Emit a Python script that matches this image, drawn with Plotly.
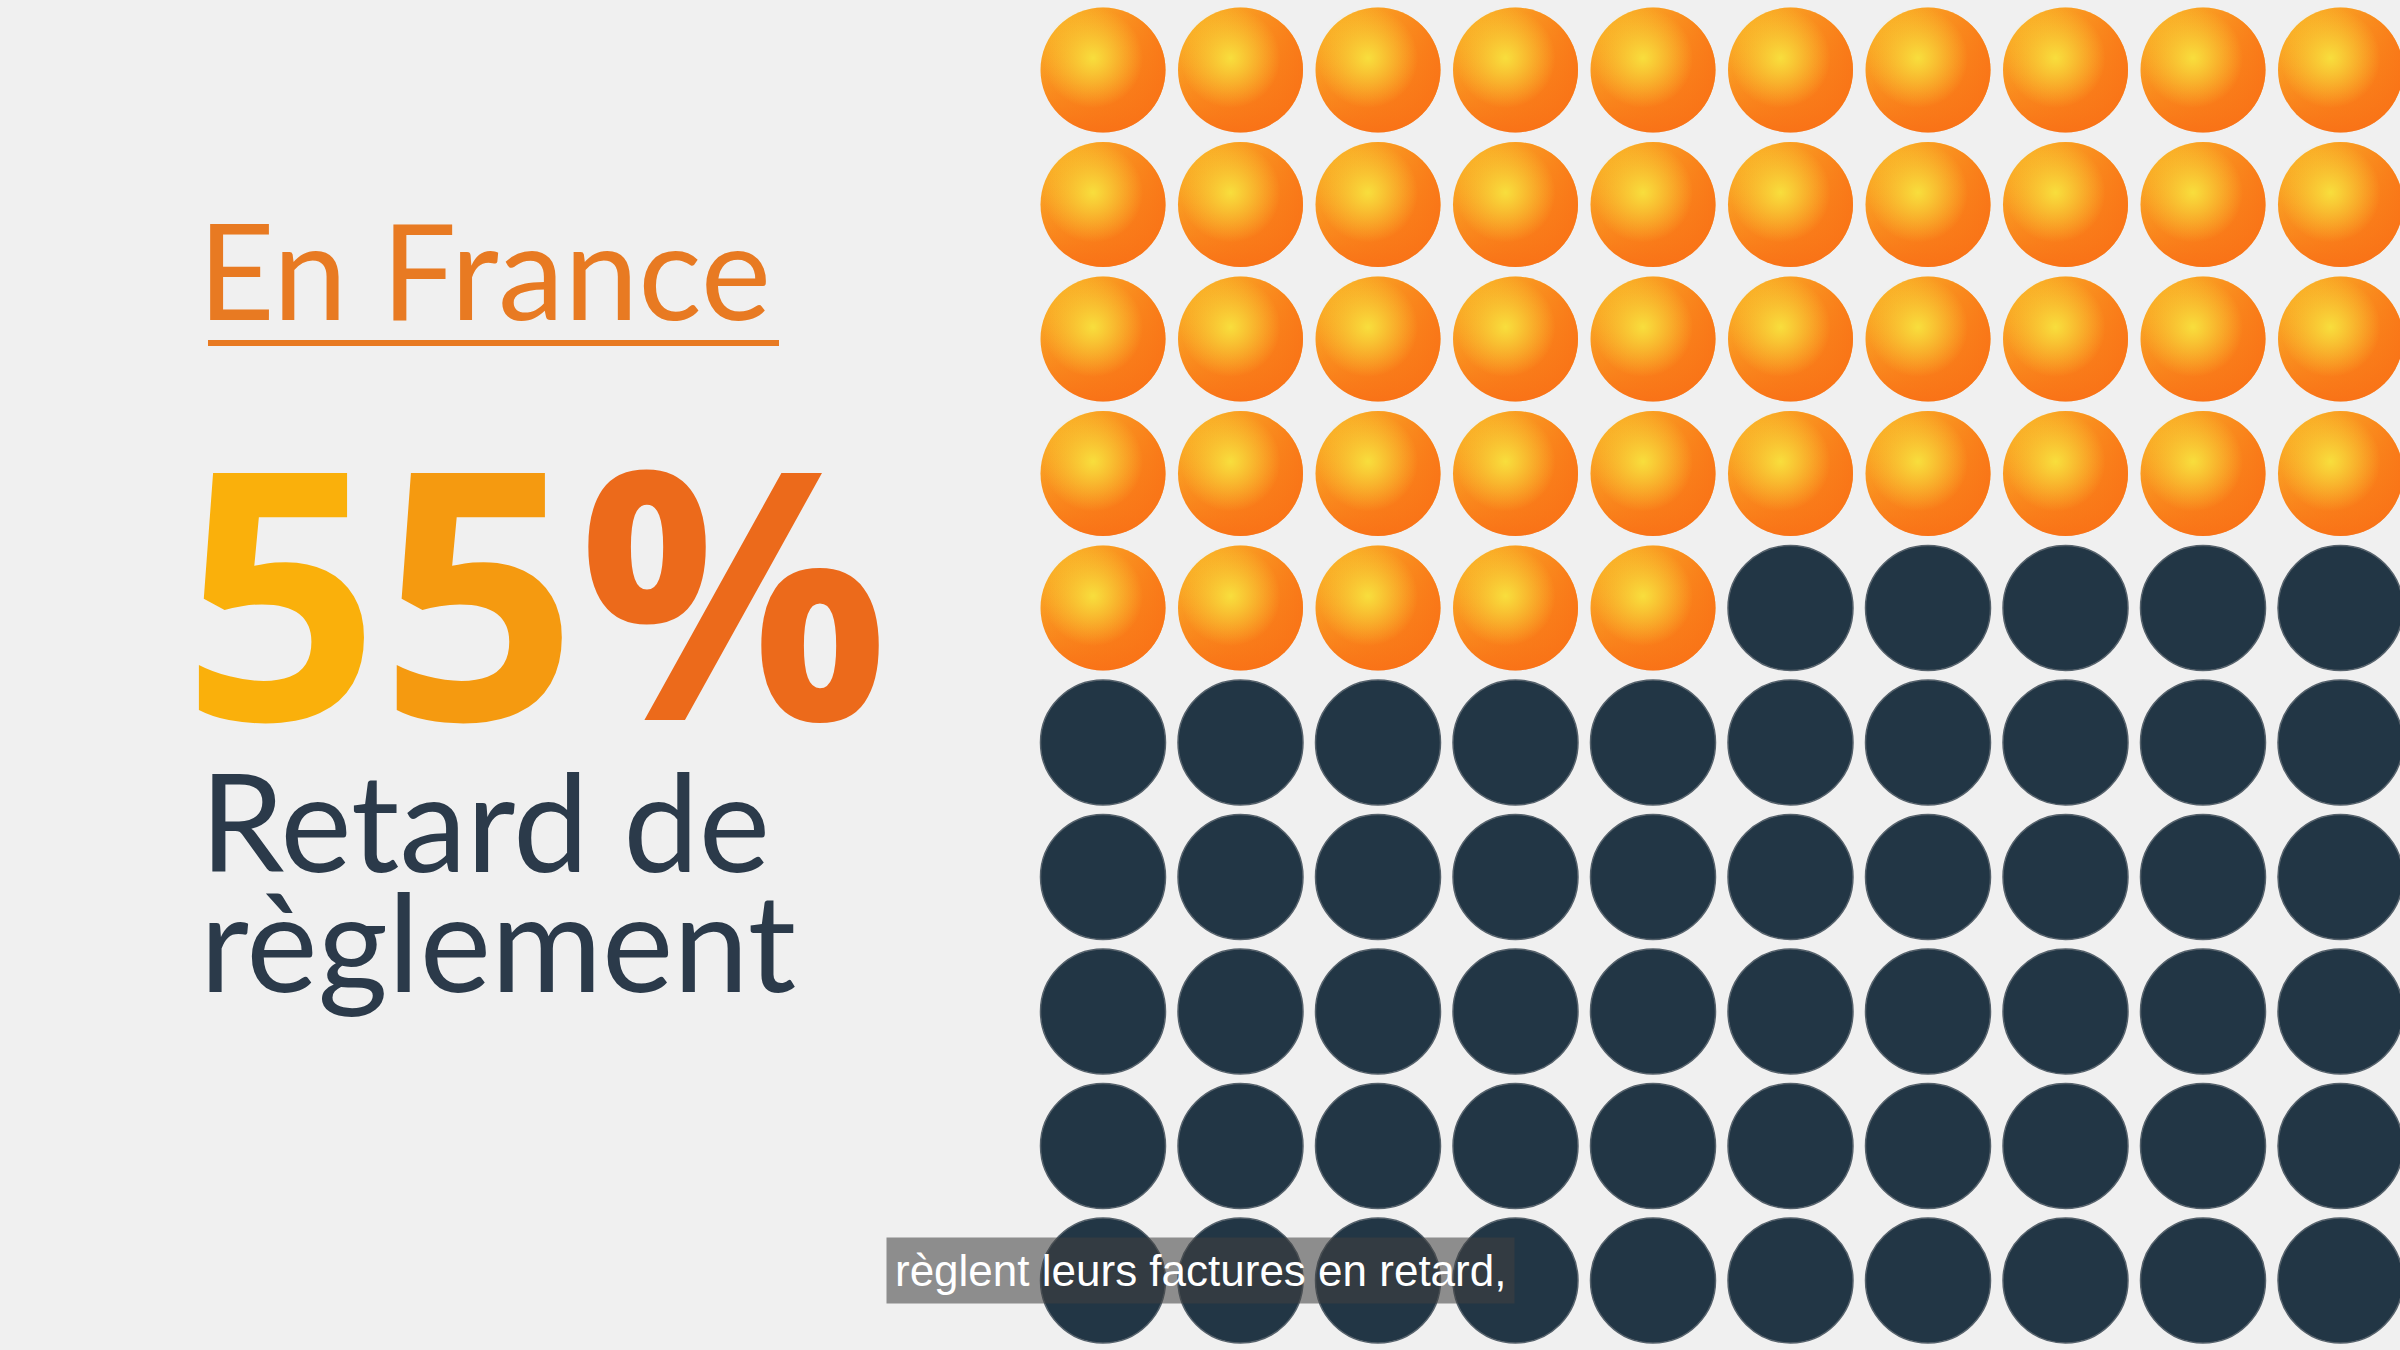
import numpy as np
import plotly.graph_objects as go

# données
total_points = 100
late_pct = 55            # % de retard de règlement
n_cols = 10
n_rows = 10
title_txt = "En France"
label_lines = ["Retard de", "règlement"]
subtitle_txt = "règlent leurs factures en retard,"

# grille (en pixels, axes 0..2400 / 0..1350)
x0, dx = 1103, 137.5
y0, dy = 70, 134.5
ball = 125

idx = np.arange(total_points)
col = idx % n_cols
row = idx // n_cols
on_time = idx < total_points - late_pct   # les boules orange
gx = x0 + col * dx
gy = y0 + row * dy

fig = go.Figure()

# boules orange : dégradé vertical (jaune-orangé en haut, orange en bas)
fig.add_trace(go.Scatter(
    x=gx[on_time], y=gy[on_time], mode='markers', hoverinfo='skip',
    marker=dict(size=ball, color='#FAC22C', line=dict(width=0),
                gradient=dict(type='vertical', color='#F97418'))
))
# assombrit le côté droit
fig.add_trace(go.Scatter(
    x=gx[on_time], y=gy[on_time], mode='markers', hoverinfo='skip',
    marker=dict(size=ball, color='rgba(249,112,22,0)', line=dict(width=0),
                gradient=dict(type='horizontal', color='rgba(249,112,22,0.85)'))
))
# reflet jaune en haut à gauche
fig.add_trace(go.Scatter(
    x=gx[on_time] - 10, y=gy[on_time] - 12, mode='markers', hoverinfo='skip',
    marker=dict(size=100, color='rgba(248,226,62,0)', line=dict(width=0),
                gradient=dict(type='radial', color='rgba(248,226,62,0.95)'))
))
# boules bleu nuit
fig.add_trace(go.Scatter(
    x=gx[~on_time], y=gy[~on_time], mode='markers', hoverinfo='skip',
    marker=dict(size=ball, color='#223645', line=dict(width=1.5, color='#55616b'))
))

ann = []
ann.append(dict(x=196, y=268, text=title_txt, xanchor='left', yanchor='middle',
                font=dict(family='Lato', size=133, color='#E87A22')))
pct_txt = str(late_pct) + "%"
pct_colors = ['#FAB00B', '#F59A10', '#EC6A1B']
pct_html = ''.join(f"<span style='color:{c}'>{ch}</span>" for ch, c in zip(pct_txt, pct_colors))
ann.append(dict(x=180, y=585, text=pct_html, xanchor='left', yanchor='middle',
                font=dict(family='Open Sans', size=346, color='#F59A10', weight='bold')))
for i, line in enumerate(label_lines):
    ann.append(dict(x=198, y=820 + i * 120, text=line, xanchor='left', yanchor='middle',
                    font=dict(family='Lato', size=135, color='#2B3A4A')))
ann.append(dict(x=1200, y=1270, text=subtitle_txt, xanchor='center', yanchor='middle',
                bgcolor='rgba(65,65,65,0.56)', borderpad=8,
                font=dict(family='Liberation Sans', size=44, color='white')))
for a in ann:
    a.update(xref='x', yref='y', showarrow=False)

fig.update_layout(
    width=2400, height=1350,
    margin=dict(l=0, r=0, t=0, b=0),
    paper_bgcolor='#F0F0F0', plot_bgcolor='#F0F0F0',
    showlegend=False,
    xaxis=dict(range=[0, 2400], visible=False, fixedrange=True),
    yaxis=dict(range=[1350, 0], visible=False, fixedrange=True),
    annotations=ann,
    shapes=[dict(type='line', xref='x', yref='y', x0=208, x1=779, y0=343, y1=343,
                 line=dict(color='#E87A22', width=6))],
)

fig.write_html("out.html", config={'displayModeBar': False},
               post_script="document.body.style.margin='0';")
